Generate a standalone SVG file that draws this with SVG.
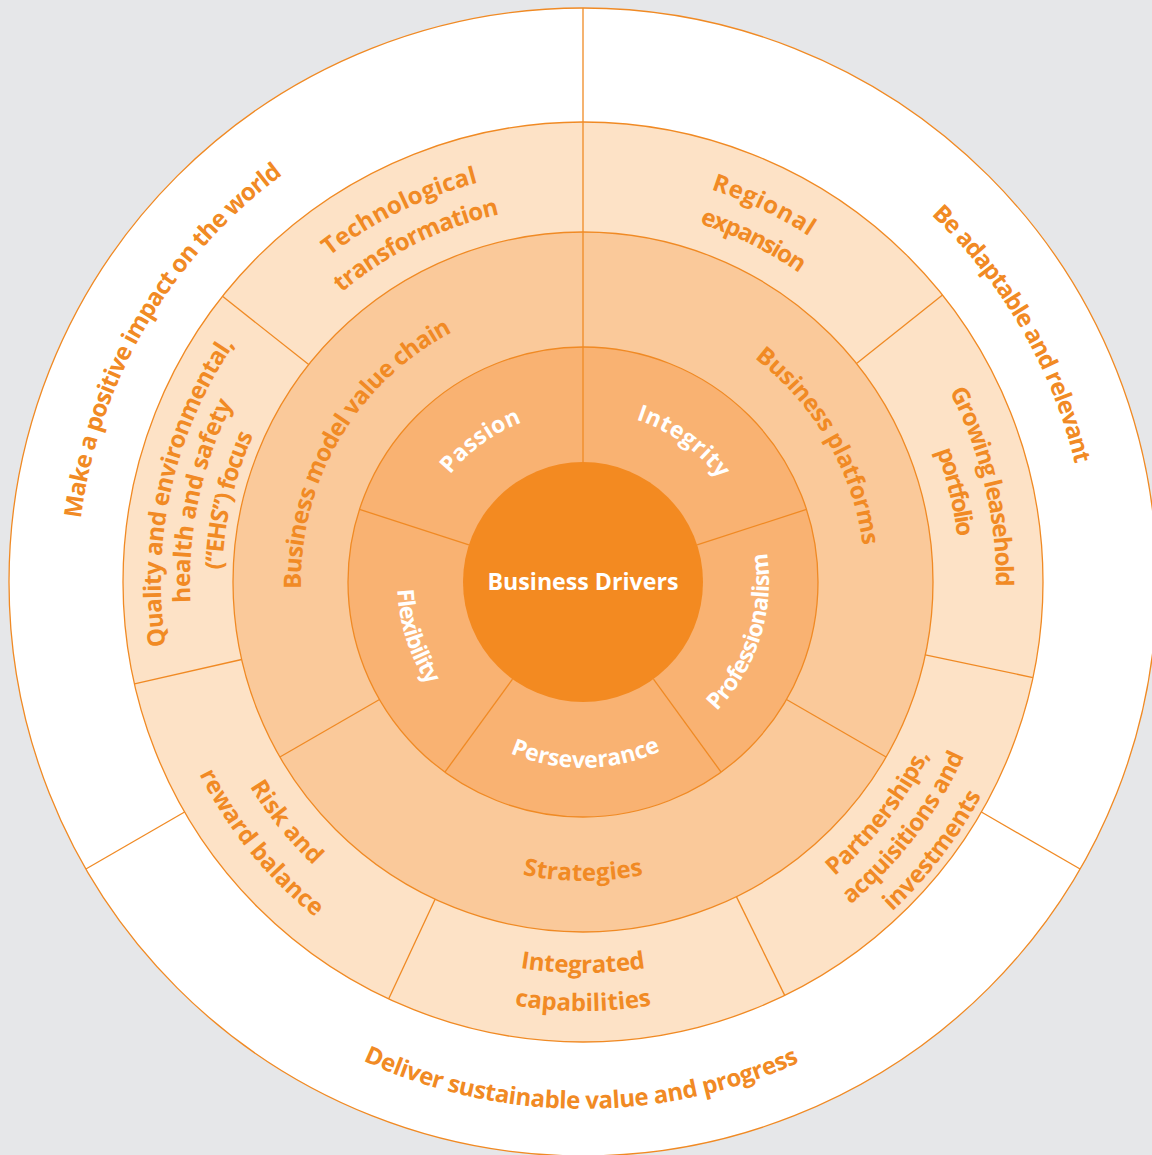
<svg xmlns="http://www.w3.org/2000/svg" xmlns:xlink="http://www.w3.org/1999/xlink" width="1152" height="1155" viewBox="0 0 1152 1155">
<style>
.ring { stroke: #f08a24; stroke-width: 1.3; }
.div { stroke: #f08a24; stroke-width: 1.3; fill: none; }
.lbl { font-family: "Open Sans", "Liberation Sans", sans-serif; font-weight: 700; font-size: 24px; fill: #f18a24; text-anchor: middle; }
.w { fill: #ffffff; font-size: 23px; }
</style>
<defs>
<path id="o506" d="M77 582 A506 506 0 0 1 1089 582"/>
<path id="o422" d="M161 582 A422 422 0 0 1 1005 582"/>
<path id="o413" d="M170 582 A413 413 0 0 1 996 582"/>
<path id="o393" d="M190 582 A393 393 0 0 1 976 582"/>
<path id="o377" d="M206 582 A377 377 0 0 1 960 582"/>
<path id="o361" d="M222 582 A361 361 0 0 1 944 582"/>
<path id="o282" d="M301 582 A282 282 0 0 1 865 582"/>
<path id="o171" d="M412 582 A171 171 0 0 1 754 582"/>
<path id="i527" d="M56 582 A527 527 0 0 0 1110 582"/>
<path id="i452" d="M131 582 A452 452 0 0 0 1035 582"/>
<path id="i429" d="M154 582 A429 429 0 0 0 1012 582"/>
<path id="i419" d="M164 582 A419 419 0 0 0 1002 582"/>
<path id="i391" d="M192 582 A391 391 0 0 0 974 582"/>
<path id="i387" d="M196 582 A387 387 0 0 0 970 582"/>
<path id="i299" d="M284 582 A299 299 0 0 0 882 582"/>
<path id="i186" d="M397 582 A186 186 0 0 0 769 582"/>
</defs>
<rect x="0" y="0" width="1152" height="1155" fill="#e6e7e9"/>
<g id="rings">
<circle class="ring" cx="583" cy="582" r="574" fill="#ffffff"/>
<circle class="ring" cx="583" cy="582" r="460" fill="#fde2c6"/>
<circle class="ring" cx="583" cy="582" r="350" fill="#fac99a"/>
<circle class="ring" cx="583" cy="582" r="235" fill="#f9b272"/>
<circle cx="583" cy="582" r="120" fill="#f38a21"/>
</g>
<g id="connectors">
<line class="div" x1="583" y1="462" x2="583" y2="8"/>
<line class="div" x1="981.4" y1="812" x2="1080.1" y2="869"/>
<line class="div" x1="184.6" y1="812" x2="85.9" y2="869"/>
<line class="div" x1="856.5" y1="363.6" x2="942.5" y2="295"/>
<line class="div" x1="925.3" y1="654.8" x2="1032.9" y2="677.6"/>
<line class="div" x1="736.4" y1="896.6" x2="784.7" y2="995.4"/>
<line class="div" x1="435.1" y1="899.2" x2="388.6" y2="998.9"/>
<line class="div" x1="241.7" y1="659.5" x2="134.5" y2="683.9"/>
<line class="div" x1="308.7" y1="364.6" x2="222.5" y2="296.3"/>
<line class="div" x1="786.5" y1="699.5" x2="886.1" y2="757"/>
<line class="div" x1="379.5" y1="699.5" x2="279.9" y2="757"/>
<line class="div" x1="697.1" y1="544.9" x2="806.5" y2="509.4"/>
<line class="div" x1="653.5" y1="679.1" x2="721.1" y2="772.1"/>
<line class="div" x1="512.5" y1="679.1" x2="444.9" y2="772.1"/>
<line class="div" x1="468.9" y1="544.9" x2="359.5" y2="509.4"/>
</g>
<g id="node-positive-impact"><text class="lbl" transform="rotate(-59.6 583 582)"><textPath xlink:href="#o506" startOffset="50%" textLength="410" lengthAdjust="spacing">Make a positive impact on the world</textPath></text></g>
<g id="node-adaptable"><text class="lbl" transform="rotate(60 583 582)"><textPath xlink:href="#o506" startOffset="50%" textLength="292" lengthAdjust="spacing">Be adaptable and relevant</textPath></text></g>
<g id="node-sustainable-value"><text class="lbl" transform="rotate(0.2 583 582)"><textPath xlink:href="#i527" startOffset="50%" textLength="450" lengthAdjust="spacing">Deliver sustainable value and progress</textPath></text></g>
<g id="node-technological">
<text class="lbl" transform="rotate(-26.3 583 582)"><textPath xlink:href="#o413" startOffset="50%" textLength="167" lengthAdjust="spacing">Technological</textPath></text>
<text class="lbl" transform="rotate(-26.3 583 582)"><textPath xlink:href="#o377" startOffset="50%" textLength="178" lengthAdjust="spacing">transformation</textPath></text>
</g>
<g id="node-regional">
<text class="lbl" transform="rotate(25.6 583 582)"><textPath xlink:href="#o413" startOffset="50%" textLength="109" lengthAdjust="spacing">Regional</textPath></text>
<text class="lbl" transform="rotate(26.5 583 582)"><textPath xlink:href="#o377" startOffset="50%" textLength="112" lengthAdjust="spacing">expansion</textPath></text>
</g>
<g id="node-leasehold">
<text class="lbl" transform="rotate(76.6 583 582)"><textPath xlink:href="#o413" startOffset="50%" textLength="203" lengthAdjust="spacing">Growing leasehold</textPath></text>
<text class="lbl" transform="rotate(76.4 583 582)"><textPath xlink:href="#o377" startOffset="50%" textLength="89" lengthAdjust="spacing">portfolio</textPath></text>
</g>
<g id="node-partnerships">
<text class="lbl" transform="rotate(-52 583 582)"><textPath xlink:href="#i387" startOffset="50%" textLength="155" lengthAdjust="spacing">Partnerships,</textPath></text>
<text class="lbl" transform="rotate(-52.6 583 582)"><textPath xlink:href="#i419" startOffset="50%" textLength="189" lengthAdjust="spacing">acquisitions and</textPath></text>
<text class="lbl" transform="rotate(-52.5 583 582)"><textPath xlink:href="#i452" startOffset="50%" textLength="147" lengthAdjust="spacing">investments</textPath></text>
</g>
<g id="node-integrated">
<text class="lbl"><textPath xlink:href="#i391" startOffset="50%" textLength="126" lengthAdjust="spacing">Integrated</textPath></text>
<text class="lbl"><textPath xlink:href="#i429" startOffset="50%" textLength="138" lengthAdjust="spacing">capabilities</textPath></text>
</g>
<g id="node-risk">
<text class="lbl" transform="rotate(51 583 582)"><textPath xlink:href="#i391" startOffset="50%" textLength="102" lengthAdjust="spacing">Risk and</textPath></text>
<text class="lbl" transform="rotate(51 583 582)"><textPath xlink:href="#i429" startOffset="50%" textLength="186" lengthAdjust="spacing">reward balance</textPath></text>
</g>
<g id="node-ehs">
<text class="lbl" transform="rotate(-77.2 583 582)"><textPath xlink:href="#o422" startOffset="50%" textLength="317" lengthAdjust="spacing">Quality and environmental,</textPath></text>
<text class="lbl" transform="rotate(-78 583 582)"><textPath xlink:href="#o393" startOffset="50%" textLength="206" lengthAdjust="spacing">health and safety</textPath></text>
<text class="lbl" transform="rotate(-77 583 582)"><textPath xlink:href="#o361" startOffset="50%" textLength="139" lengthAdjust="spacing">(“EHS”) focus</textPath></text>
</g>
<g id="node-value-chain"><text class="lbl" transform="rotate(-59.5 583 582)"><textPath xlink:href="#o282" startOffset="50%" textLength="314" lengthAdjust="spacing">Business model value chain</textPath></text></g>
<g id="node-platforms"><text class="lbl" transform="rotate(60 583 582)"><textPath xlink:href="#o282" startOffset="50%" textLength="222" lengthAdjust="spacing">Business platforms</textPath></text></g>
<g id="node-strategies"><text class="lbl"><textPath xlink:href="#i299" startOffset="50%" textLength="122" lengthAdjust="spacing">Strategies</textPath></text></g>
<g id="node-passion"><text class="lbl w" transform="rotate(-36 583 582)"><textPath xlink:href="#o171" startOffset="50%" textLength="90" lengthAdjust="spacing">Passion</textPath></text></g>
<g id="node-integrity"><text class="lbl w" transform="rotate(35.5 583 582)"><textPath xlink:href="#o171" startOffset="50%" textLength="104" lengthAdjust="spacing">Integrity</textPath></text></g>
<g id="node-professionalism"><text class="lbl w" transform="rotate(-72.5 583 582)"><textPath xlink:href="#i186" startOffset="50%" textLength="172" lengthAdjust="spacing">Professionalism</textPath></text></g>
<g id="node-perseverance"><text class="lbl w" transform="rotate(-0.8 583 582)"><textPath xlink:href="#i186" startOffset="50%" textLength="155" lengthAdjust="spacing">Perseverance</textPath></text></g>
<g id="node-flexibility"><text class="lbl w" transform="rotate(72 583 582)"><textPath xlink:href="#i186" startOffset="50%" textLength="102" lengthAdjust="spacing">Flexibility</textPath></text></g>
<g id="node-business-drivers"><text class="lbl w" x="583" y="590" textLength="191" lengthAdjust="spacingAndGlyphs">Business Drivers</text></g>
</svg>
